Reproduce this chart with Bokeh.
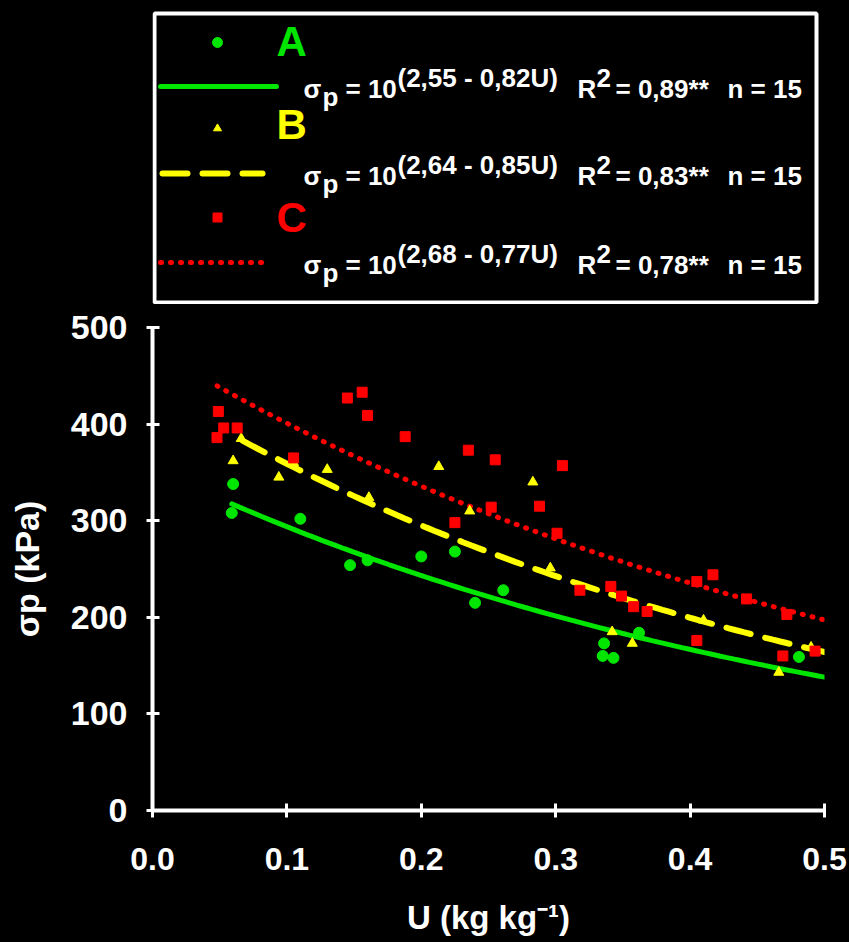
import numpy as np
from bokeh.plotting import figure
from bokeh.models import Range1d, FixedTicker, Label, NumeralTickFormatter
from bokeh.layouts import column
from bokeh.embed import file_html
from bokeh.resources import INLINE

# ---------------- data ----------------
series_names = ["A", "B", "C"]

u_A = [0.060, 0.059, 0.110, 0.147, 0.160, 0.200, 0.225, 0.240, 0.261, 0.336, 0.335, 0.343, 0.362, 0.481]
sp_A = [338, 308, 302, 254, 259, 263, 268, 215, 228, 173, 160, 158, 184, 159]

u_B = [0.060, 0.066, 0.094, 0.105, 0.130, 0.161, 0.213, 0.236, 0.283, 0.296, 0.342, 0.357, 0.410, 0.466, 0.490]
sp_B = [362, 385, 345, 360, 353, 324, 356, 310, 340, 251, 185, 173, 197, 143, 169]

u_C = [0.049, 0.053, 0.048, 0.063, 0.105, 0.145, 0.156, 0.160, 0.188, 0.225, 0.235, 0.252, 0.255, 0.288,
       0.301, 0.305, 0.318, 0.341, 0.349, 0.358, 0.368, 0.405, 0.405, 0.417, 0.442, 0.469, 0.472, 0.493]
sp_C = [413, 396, 386, 396, 365, 427, 433, 409, 387, 298, 373, 314, 363, 315,
        287, 357, 228, 232, 222, 211, 206, 237, 176, 244, 219, 160, 203, 165]

# regression: sigma_p = 10^(a - b U)
fit_a = [2.55, 2.64, 2.68]
fit_b = [0.82, 0.85, 0.77]
fit_r2 = ["0,89**", "0,83**", "0,78**"]
fit_n = [15, 15, 15]
fit_u_start = [0.059, 0.067, 0.048]
fit_u_end = [0.5, 0.5, 0.5]

x_ticks = [0.0, 0.1, 0.2, 0.3, 0.4, 0.5]
y_ticks = [0, 100, 200, 300, 400, 500]
x_title = "U (kg kg\u207b\u00b9)"
y_title = "σp (kPa)"

# ---------------- styles ----------------
colors = ["#00e600", "#ffff00", "#ff0000"]
FONT = "Liberation Sans"

# ---------------- main chart ----------------
p = figure(width=849, height=638, x_range=Range1d(0, 0.5), y_range=Range1d(0, 500),
           output_backend="svg", toolbar_location=None,
           min_border_left=152, min_border_right=25, min_border_top=23, min_border_bottom=132,
           background_fill_color="black", border_fill_color="black", outline_line_color=None)
p.grid.visible = False

# fitted curves
dashes = ["solid", "25 15", "1 9"]
widths = [5, 6, 5]
for i in range(3):
    uu = np.linspace(fit_u_start[i], fit_u_end[i], 80)
    vv = 10 ** (fit_a[i] - fit_b[i] * uu)
    p.line(uu, vv, line_color=colors[i], line_width=widths[i], line_dash=dashes[i], line_cap="round")

p.scatter(u_A, sp_A, marker="circle", size=11, fill_color=colors[0], line_color=colors[0])
p.scatter(u_B, sp_B, marker="triangle", size=10, fill_color=colors[1], line_color=colors[1])
p.scatter(u_C, sp_C, marker="square", size=10, fill_color=colors[2], line_color=colors[2])

for ax in (p.xaxis[0], p.yaxis[0]):
    ax.axis_line_color = "white"
    ax.axis_line_width = 4
    ax.major_tick_line_color = "white"
    ax.major_tick_line_width = 3
    ax.minor_tick_line_color = None
    ax.major_label_text_color = "white"
    ax.major_label_text_font = FONT
    ax.major_label_text_font_style = "bold"
    ax.axis_label_text_color = "white"
    ax.axis_label_text_font = FONT
    ax.axis_label_text_font_style = "bold"

p.xaxis.ticker = FixedTicker(ticks=x_ticks)
p.xaxis.formatter = NumeralTickFormatter(format="0.0")
p.xaxis.major_label_text_font_size = "32px"
p.xaxis.major_tick_in = 7
p.xaxis.major_tick_out = 7
p.xaxis.major_label_standoff = 30
p.xaxis.axis_label = x_title
p.xaxis.axis_label_text_font_size = "33px"
p.xaxis.axis_label_standoff = 26

p.yaxis.ticker = FixedTicker(ticks=y_ticks)
p.yaxis.major_label_text_font_size = "34px"
p.yaxis.major_tick_in = 7
p.yaxis.major_tick_out = 6
p.yaxis.major_label_standoff = 19
p.yaxis.axis_label = y_title
p.yaxis.axis_label_text_font_size = "34px"
p.yaxis.axis_label_standoff = 22

def lab(fig, x, y, text, size, color="white", align="left", baseline="alphabetic", angle=0):
    fig.add_layout(Label(x=x, y=y, text=text, text_font=FONT, text_font_style="bold",
                         text_font_size=f"{size}px", text_color=color, text_align=align,
                         text_baseline=baseline, angle=angle))

# ---------------- legend panel (data units = page pixels) ----------------
lg = figure(width=849, height=304, x_range=Range1d(152, 824), y_range=Range1d(304, 0),
            output_backend="svg", toolbar_location=None,
            min_border_left=152, min_border_right=25, min_border_top=0, min_border_bottom=0,
            x_axis_type=None, y_axis_type=None,
            background_fill_color="black", border_fill_color="black", outline_line_color=None)
lg.grid.visible = False

lg.quad(left=[154], right=[816], top=[13], bottom=[302], fill_color="black",
        line_color="white", line_width=4)

marker_y = [42, 128, 217]
marker_kind = ["circle", "triangle", "square"]
marker_size = [10, 8, 9]
line_y = [86, 173, 262]
line_x0 = [160, 162, 160]
line_x1 = [276, 262, 270]
letter_base = [41, 124, 217]
row_base = [88, 175, 264]

for i in range(3):
    lg.scatter([217], [marker_y[i]], marker=marker_kind[i], size=marker_size[i],
               fill_color=colors[i], line_color=colors[i])
    lg.line([line_x0[i], line_x1[i]], [line_y[i], line_y[i]], line_color=colors[i],
            line_width=widths[i], line_dash=dashes[i], line_cap="round")
    lab(lg, 276, letter_base[i], series_names[i], 42, color=colors[i])
    b = row_base[i]
    expo = "(" + f"{fit_a[i]:.2f}".replace(".", ",") + " - " + f"{fit_b[i]:.2f}".replace(".", ",") + "U)"
    lab(lg, 303, b, "σ", 26)
    lab(lg, 322, b + 8, "p", 26)
    lab(lg, 345, b, "= 10", 26)
    lab(lg, 397, b - 11, expo, 26)
    lab(lg, 577, b, "R", 26)
    lab(lg, 596, b - 11, "2", 26)
    lab(lg, 615, b, "= " + fit_r2[i], 26)
    lab(lg, 727, b, f"n = {fit_n[i]}", 26)

layout = column(lg, p, spacing=0)
html = file_html(layout, INLINE)
html = html.replace("<head>", "<head><style>html, body { background: #000000; margin: 0; }</style>", 1)
open("out.html", "w").write(html)
